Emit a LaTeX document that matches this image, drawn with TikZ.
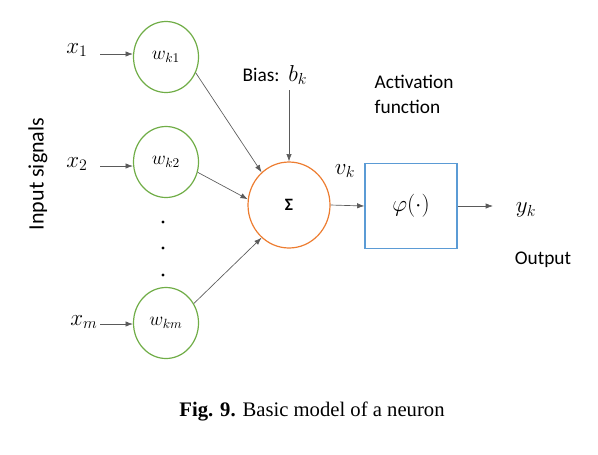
\documentclass[tikz,border=0pt]{standalone}
\usepackage{fontspec}
\setmainfont{Liberation Serif}
\newfontfamily\calibrifont{Carlito}
\usetikzlibrary{arrows.meta,shapes.geometric}
\definecolor{cgreen}{RGB}{112,173,71}
\definecolor{corange}{RGB}{237,125,49}
\definecolor{cblue}{RGB}{91,155,213}
\definecolor{carrow}{RGB}{90,90,90}
\begin{document}
\begin{tikzpicture}[x=0.75pt,y=-0.75pt,
  wnode/.style={draw=cgreen,line width=0.9pt,ellipse,minimum width=48.75pt,minimum height=53.25pt,inner sep=0pt},
  snode/.style={draw=corange,line width=0.9pt,ellipse,minimum width=61.5pt,minimum height=64.5pt,inner sep=0pt},
  bnode/.style={draw=cblue,line width=0.9pt,rectangle,minimum width=69pt,minimum height=63.75pt,inner sep=0pt},
  conn/.style={draw=carrow,line width=0.5pt,-{Latex[length=5.5pt,width=4pt]}},
  lbl/.style={font=\calibrifont\fontsize{14.5}{17}\selectfont},
  mlbl/.style={font=\fontsize{17}{20}\selectfont},
  wlbl/.style={font=\fontsize{14}{16}\selectfont},
  dot/.style={circle,fill=black,inner sep=0pt,minimum size=2.4pt}]
\useasboundingbox (0,0) rectangle (598,454);
% weight nodes
\node[wnode,wlbl] (w1) at (166,57) {$w_{k1}$};
\node[wnode,wlbl] (w2) at (166,162) {$w_{k2}$};
\node[wnode,wlbl] (wm) at (166,323) {$w_{km}$};
% dots
\node[dot] (d1) at (163,222) {};
\node[dot] (d2) at (163,248) {};
\node[dot] (d3) at (163,275) {};
% inputs
\node[mlbl] (x1) at (77,50) {$x_1$};
\node[mlbl] (x2) at (77,164) {$x_2$};
\node[mlbl] (xm) at (84,322) {$x_m$};
\coordinate (x1e) at (100,54);
\coordinate (x2e) at (100,166);
\coordinate (xme) at (100,324);
\draw[conn] (x1e) -- (w1.west |- x1e);
\draw[conn] (x2e) -- (w2.west |- x2e);
\draw[conn] (xme) -- (wm.west |- xme);
\node[rotate=90,font=\calibrifont\fontsize{16.5}{19}\selectfont] (insig) at (38,174) {Input signals};
% summation
\node[snode] (sum) at (289,205) {\calibrifont\bfseries\fontsize{13}{15}\selectfont Σ};
\node[lbl,anchor=west] (bias) at (238,75) {Bias:\ \ \fontsize{17}{20}\selectfont\normalfont$b_k$};
\coordinate (bstart) at (289,90);
\draw[conn] (bstart) -- (sum.north);
\draw[conn] (w1.-28) -- (sum.130);
\draw[conn] (w2.-18) -- (sum.172);
\draw[conn] (wm.35) -- (sum.-130);
% activation
\node[bnode] (act) at (411,206) {\fontsize{17.5}{20}\selectfont$\varphi(\cdot)$};
\node[anchor=north west,align=left,font=\calibrifont\fontsize{14.5}{19}\selectfont] (actlbl) at (370,70) {Activation\\function};
\node[mlbl] (vk) at (345,171) {$v_k$};
\draw[conn] (sum.east) -- (act.west);
\node[mlbl] (yk) at (526,210) {$y_k$};
\coordinate (yend) at (493,206);
\draw[conn] (act.east) -- (yend);
\node[lbl] (out) at (543,260) {Output};
% caption
\node (cap) at (312,411) {\fontsize{15.5}{18}\selectfont\textbf{Fig. 9.} Basic model of a neuron};
\end{tikzpicture}
\end{document}
